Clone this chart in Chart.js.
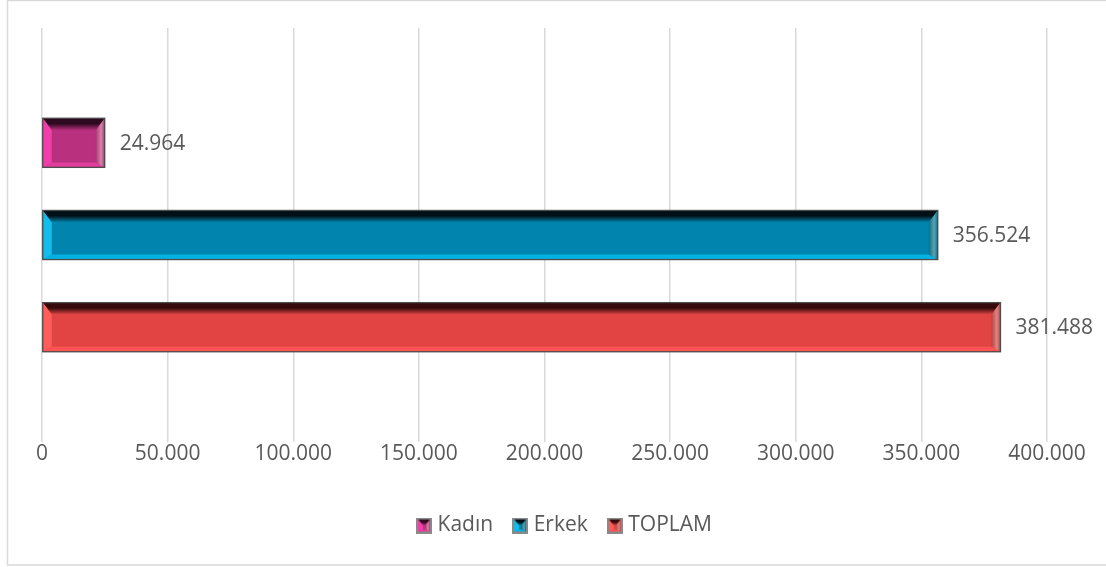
<!DOCTYPE html>
<html>
<head>
<meta charset="utf-8">
<script src="https://cdn.jsdelivr.net/npm/chart.js@4.4.1/dist/chart.umd.min.js"></script>
<style>
html,body{margin:0;padding:0;background:#fff;overflow:hidden;}
canvas{display:block;}
</style>
</head>
<body>
<canvas id="c" width="1106" height="567"></canvas>
<script>
// ---- data ----
const categories = [''];
const seriesNames = ['Kadın', 'Erkek', 'TOPLAM'];
const kadinValues = [24964];
const erkekValues = [356524];
const toplamValues = [381488];
const xTickLabels = ['0', '50.000', '100.000', '150.000', '200.000', '250.000', '300.000', '350.000', '400.000'];

// ---- styles ----
const palettes = [
  {base:'#b8307e', top:'#2e0a20', left:'#f23eab', bottom:'#e23c9c', right:'#a8386f', right2:'#d883b0'},
  {base:'#0184ad', top:'#011017', left:'#12bdec', bottom:'#04b2e2', right:'#0f6d85', right2:'#5aa3b3'},
  {base:'#e24444', top:'#350a0a', left:'#ff5c5c', bottom:'#ff5252', right:'#b84444', right2:'#e08585'}
];
const FONT = "'Open Sans', 'DejaVu Sans', sans-serif";
const TEXT = '#595959';

function fmt(v){
  return String(Math.round(v)).replace(/\B(?=(\d{3})+(?!\d))/g, '.');
}

function bevel(ctx, l, t, r, b, p, bw, bwTop, bwBot){
  const path = (pts, fill) => {
    ctx.beginPath();
    ctx.moveTo(pts[0][0], pts[0][1]);
    for (let i = 1; i < pts.length; i++) ctx.lineTo(pts[i][0], pts[i][1]);
    ctx.closePath();
    ctx.fillStyle = fill;
    ctx.fill();
  };
  ctx.fillStyle = p.base;
  ctx.fillRect(l, t, r - l, b - t);
  const g = ctx.createLinearGradient(0, t, 0, t + bwTop);
  g.addColorStop(0, p.top);
  g.addColorStop(0.45, p.top);
  g.addColorStop(1, p.base);
  path([[l, t], [r, t], [r - bw, t + bwTop], [l + bw, t + bwTop]], g);
  path([[l, b], [r, b], [r - bw, b - bwBot], [l + bw, b - bwBot]], p.bottom);
  path([[l, t], [l + bw, t + bwTop], [l + bw, b - bwBot], [l, b]], p.left);
  const gr = ctx.createLinearGradient(r - bw, 0, r, 0);
  gr.addColorStop(0, p.right);
  gr.addColorStop(0.6, p.right2);
  gr.addColorStop(1, p.right);
  path([[r, t], [r - bw, t + bwTop], [r - bw, b - bwBot], [r, b]], gr);
}

function legendIcon(p){
  const cv = document.createElement('canvas');
  cv.width = 16; cv.height = 16;
  const x = cv.getContext('2d');
  x.fillStyle = '#8a8a8a';
  x.fillRect(0, 0, 16, 16);
  bevel(x, 2, 2, 14, 14, p, 5, 6, 2);
  return cv;
}

const bevelPlugin = {
  id: 'bevel',
  afterDatasetsDraw(chart){
    const ctx = chart.ctx;
    chart.data.datasets.forEach((ds, i) => {
      const meta = chart.getDatasetMeta(i);
      if (meta.hidden) return;
      meta.data.forEach((el) => {
        const {x, y, base, height} = el.getProps(['x', 'y', 'base', 'height'], true);
        const l = Math.min(x, base), r = Math.max(x, base);
        const t = y - height / 2, b = y + height / 2;
        ctx.save();
        bevel(ctx, l, t, r, b, palettes[i], 9, 12, 5);
        ctx.strokeStyle = '#4d4d4d';
        ctx.lineWidth = 1.3;
        ctx.strokeRect(l, t, r - l, b - t);
        ctx.restore();
      });
    });
  }
};

const labelPlugin = {
  id: 'valueLabels',
  afterDatasetsDraw(chart){
    const ctx = chart.ctx;
    ctx.save();
    ctx.font = '21px ' + FONT;
    ctx.fillStyle = TEXT;
    ctx.textAlign = 'left';
    ctx.textBaseline = 'middle';
    chart.data.datasets.forEach((ds, i) => {
      const meta = chart.getDatasetMeta(i);
      meta.data.forEach((el, j) => {
        const {x, y} = el.getProps(['x', 'y'], true);
        ctx.fillText(fmt(ds.data[j]), x + 15, y + 1);
      });
    });
    ctx.restore();
  }
};

const framePlugin = {
  id: 'frame',
  beforeDraw(chart){
    const ctx = chart.ctx;
    ctx.save();
    ctx.fillStyle = '#ffffff';
    ctx.fillRect(0, 0, chart.width, chart.height);
    ctx.strokeStyle = '#d9d9d9';
    ctx.lineWidth = 1.5;
    ctx.strokeRect(7.5, 0.5, 1120, 564.5);
    ctx.restore();
  }
};

// shift the legend block to the right, as in the reference
const legendShift = {
  id: 'legendShift',
  afterLayout(chart){
    if (chart.legend) {
      chart.legend.left += 22;
      chart.legend.right += 22;
    }
  }
};

const allValues = [kadinValues, erkekValues, toplamValues];
const datasets = seriesNames.map((name, i) => ({
  label: name,
  data: allValues[i],
  backgroundColor: palettes[i].base,
  borderColor: '#4d4d4d',
  borderWidth: 0,
  pointStyle: legendIcon(palettes[i]),
  categoryPercentage: 0.668,
  barPercentage: 0.533
}));

new Chart(document.getElementById('c'), {
  type: 'bar',
  data: { labels: categories, datasets },
  options: {
    indexAxis: 'y',
    responsive: false,
    animation: false,
    layout: { padding: { left: 42, right: 59, top: 28, bottom: 21 } },
    scales: {
      x: {
        min: 0, max: 400000,
        border: { display: false },
        grid: { color: '#d9d9d9', lineWidth: 1.5, drawTicks: false },
        afterFit: (scale) => { scale.height = 49; },
        ticks: {
          stepSize: 50000,
          padding: -1,
          color: TEXT,
          font: { family: FONT, size: 21 },
          maxRotation: 0,
          callback: (v, idx) => xTickLabels[idx]
        }
      },
      y: { display: false }
    },
    plugins: {
      legend: {
        position: 'bottom',
        labels: {
          usePointStyle: true,
          pointStyleWidth: 6,
          boxHeight: 16,
          padding: 24,
          color: TEXT,
          font: { family: FONT, size: 21 }
        }
      },
      tooltip: { enabled: false }
    }
  },
  plugins: [framePlugin, bevelPlugin, labelPlugin, legendShift]
});
</script>
</body>
</html>
